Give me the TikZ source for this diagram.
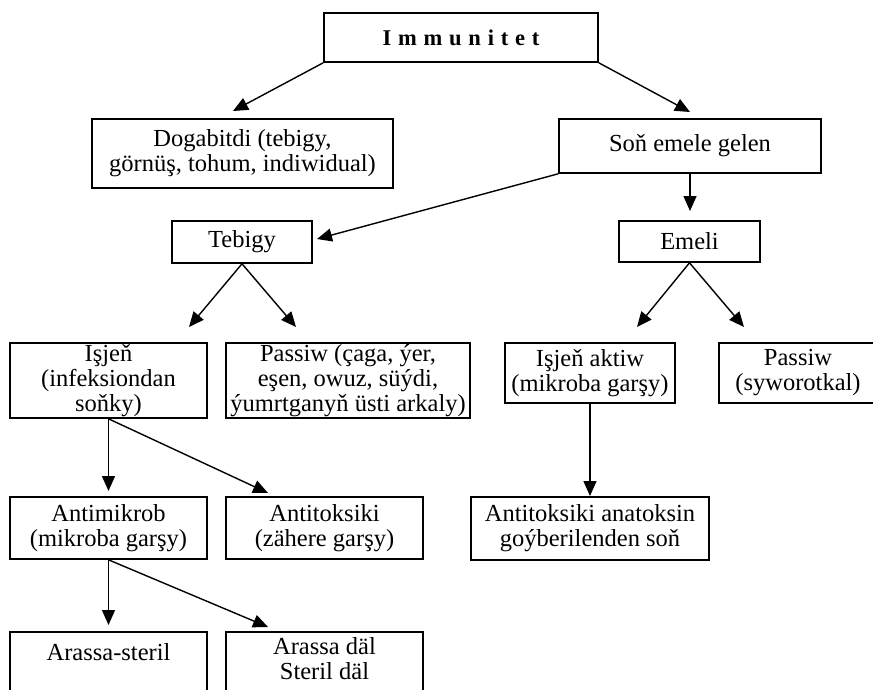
\documentclass[tikz,border=0pt]{standalone}
\usepackage{fontspec}
\setmainfont{Liberation Serif}
\usetikzlibrary{arrows.meta}

\tikzset{
	box/.style={draw, line width=1.6pt, align=center, inner xsep=2pt, inner ysep=0.5pt,
		font=\fontsize{24.5}{25}\selectfont},
	arr/.style={line width=1.4pt, -{Triangle[length=15pt,width=13pt]}},
}

\begin{document}
\begin{tikzpicture}[x=1pt,y=-1pt]
			\useasboundingbox (0,0) rectangle (873,689);
			\clip (0,0) rectangle (873,689);
			% boxes
			\node[box, minimum width=274pt, minimum height=49pt, font=\fontsize{22.5}{26}\selectfont\bfseries] (imm) at (461,37.5) {I\kern6.8pt m\kern6.8pt m\kern6.8pt u\kern6.8pt n\kern6.8pt i\kern6.8pt t\kern6.8pt e\kern6.8pt t};
			\node[box, minimum width=301pt, minimum height=69pt] (dog) at (242.5,153.5) {Dogabitdi (tebigy,\\ görnüş, tohum, indiwidual)};
			\node[box, minimum width=262pt, minimum height=54pt] (son) at (690,146) {Soň emele gelen};
			\node[box, minimum width=140pt, minimum height=42pt] (teb) at (242,242) {Tebigy};
			\node[box, minimum width=141pt, minimum height=41pt] (eme) at (689.5,241.5) {Emeli};
			\node[box, minimum width=197pt, minimum height=75pt] (isj) at (108.5,380.5) {Işjeň\\ (infeksiondan\\ soňky)};
			\node[box, minimum width=244pt, minimum height=75pt] (pas) at (348,380.5) {Passiw (çaga, ýer,\\ eşen, owuz, süýdi,\\ ýumrtganyň üsti arkaly)};
			\node[box, minimum width=170pt, minimum height=60pt] (akt) at (590,373) {Işjeň aktiw\\ (mikroba garşy)};
			\node[box, minimum width=158pt, minimum height=60pt] (syw) at (798,373) {Passiw\\ (syworotkal)};
			\node[box, minimum width=197pt, minimum height=62pt] (antm) at (108.5,528) {Antimikrob\\ (mikroba garşy)};
			\node[box, minimum width=197pt, minimum height=62pt] (antt) at (324.5,528) {Antitoksiki\\ (zähere garşy)};
			\node[box, minimum width=238pt, minimum height=63pt] (anat) at (590,528.5) {Antitoksiki anatoksin\\ goýberilenden soň};
			\node[box, minimum width=197pt, anchor=north, inner ysep=12pt] (ster) at (108.5,631) {Arassa-steril\\ \mbox{}\\ \mbox{}};
			\node[box, minimum width=197pt, anchor=north, inner ysep=6pt] (dal) at (324.5,631) {Arassa däl\\ Steril däl\\ \mbox{}};
			% arrow tips
			\coordinate (dogtip) at (233,111);
			\coordinate (sontip) at (690,112);
			\coordinate (tebtip) at (317,239);
			\coordinate (emetip) at (690,211);
			\coordinate (isjtip) at (189,327);
			\coordinate (pastip) at (296,327);
			\coordinate (akttip) at (637,327);
			\coordinate (sywtip) at (744,327);
			\coordinate (anattip) at (590,496);
			\coordinate (antmtip) at (108.5,491);
			\coordinate (antttip) at (268,493);
			\coordinate (stertip) at (108.5,625);
			\coordinate (daltip) at (268,627);
			% connectors
			\draw[arr] (imm.south west) -- (dogtip);
			\draw[arr] (imm.south east) -- (sontip);
			\draw[arr] (son.south west) -- (tebtip);
			\draw[arr] (son.south) -- (emetip);
			\draw[arr] (teb.south) -- (isjtip);
			\draw[arr] (teb.south) -- (pastip);
			\draw[arr] (eme.south) -- (akttip);
			\draw[arr] (eme.south) -- (sywtip);
			\draw[arr] (akt.south) -- (anattip);
			\draw[arr] (isj.south) -- (antmtip);
			\draw[arr] (isj.south) -- (antttip);
			\draw[arr] (antm.south) -- (stertip);
			\draw[arr] (antm.south) -- (daltip);
\end{tikzpicture}
\end{document}
